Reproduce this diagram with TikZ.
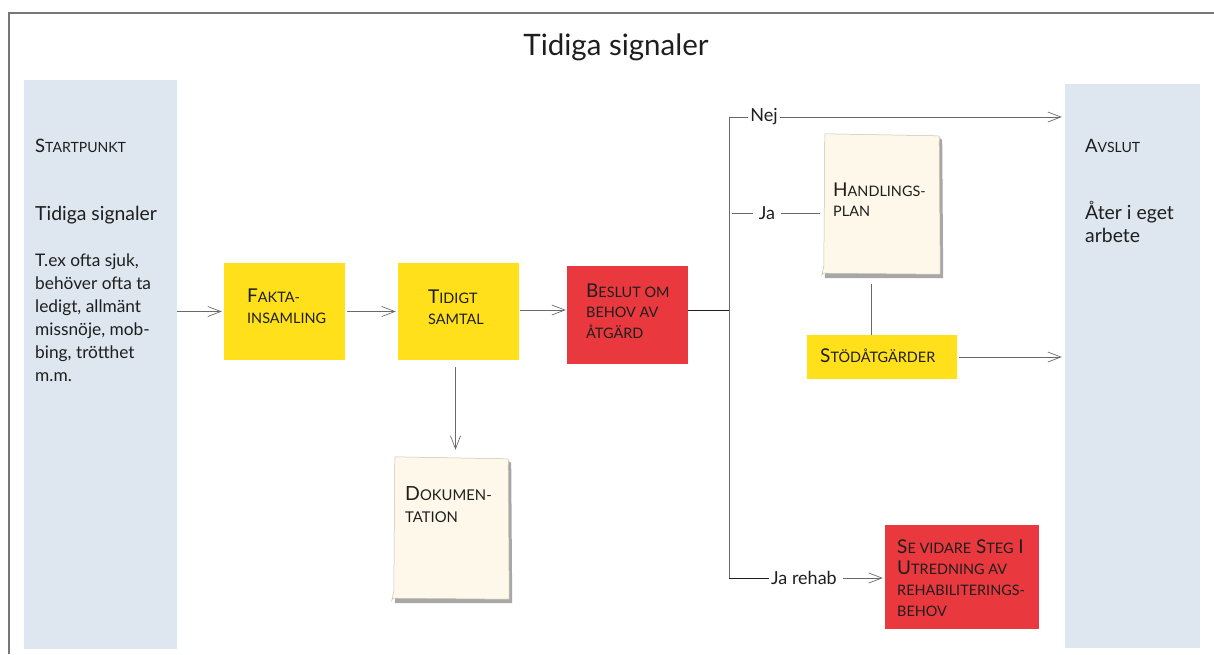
\documentclass[tikz,border=0pt]{standalone}
\usepackage{fontspec}
\usepackage{graphicx}
\setmainfont{Lato}
\usetikzlibrary{arrows.meta,calc}
\definecolor{framec}{HTML}{777777}
\definecolor{panelc}{HTML}{DEE7F0}
\definecolor{yellowc}{HTML}{FFE01B}
\definecolor{redc}{HTML}{E9393F}
\definecolor{docc}{HTML}{FDF8E9}
\definecolor{docedge}{HTML}{C8C2B0}
\definecolor{shadowc}{HTML}{8A8A8A}
\definecolor{linec}{HTML}{6A6A6A}
\definecolor{textc}{HTML}{1E1E1E}
\newcommand\lc[1]{\scalebox{0.76}{#1}}
\newcommand\docpaper[1]{%
  \fill[shadowc,opacity=0.75] ($(#1.north east)+(-2,4)$) -- ($(#1.north east)+(1,6)$) -- ($(#1.south east)+(2,4)$) -- ($(#1.south west)+(2,4)$) -- ($(#1.south west)+(2,0)$) -- cycle;
  \fill[docc, draw=docedge, line width=0.5pt] ($(#1.north west)+(2,0)$) -- ($(#1.north east)+(-4,2)$) .. controls ($(#1.north east)+(-1,2)$) and ($(#1.north east)+(-1,4)$) .. ($(#1.north east)+(-2,8)$) -- ($(#1.south east)+(-1,0)$) -- ($(#1.south west)+(1,-1)$) .. controls ($(#1.south west)+(0,-1)$) .. ($(#1.south west)+(-1,1)$) -- ($(#1.south west)+(1,-8)$) -- cycle;
}
\tikzset{
  panel/.style={fill=panelc, draw=none, inner sep=0pt},
  ybox/.style={fill=yellowc, draw=none, inner sep=0pt},
  rbox/.style={fill=redc, draw=none, inner sep=0pt},
  docnode/.style={draw=none, fill=none, inner sep=0pt},
  lbl/.style={text=textc, inner sep=0pt, align=left, anchor=base west},
  boxtext/.style={lbl, font=\fontsize{19}{21}\selectfont},
  conn/.style={draw=linec, line width=0.8pt},
  arr/.style={conn, -{Straight Barb[length=13pt,width=10pt,line width=0.7pt]}},
}
\begin{document}
\begin{tikzpicture}[x=1pt,y=-1pt]
\useasboundingbox (0,0) rectangle (1214,654);
% frame
\draw[framec, line width=1.4pt] (9,654) -- (9,13) -- (1214,13);
% title
\node[text=textc, font=\fontsize{29.5}{30}\selectfont, inner sep=0pt] (title) at (616,47) {Tidiga signaler};
% panels
\node[panel, minimum width=153pt, minimum height=569pt] (start) at (100.5,364.5) {};
\node[panel, minimum width=135pt, minimum height=564pt] (avslut) at (1132.5,366) {};
% (base west of a multi-line text = baseline of its last line)
\node[lbl, font=\fontsize{18.5}{18}\selectfont] (startlbl) at (35,152) {S\lc{TARTPUNKT}};
\node[lbl, font=\fontsize{19.4}{19}\selectfont] (starttitle) at (35,220) {Tidiga signaler};
\node[lbl, font=\fontsize{17.3}{23}\selectfont] (startdesc) at (35,381) {T.ex ofta sjuk,\\behöver ofta ta\\ledigt, allmänt\\missnöje, mob-\\bing, trötthet\\m.m.};
\node[lbl, font=\fontsize{18.5}{18}\selectfont] (avslutlbl) at (1085,152) {A\lc{VSLUT}};
\node[lbl, font=\fontsize{19.4}{23}\selectfont] (avsluttitle) at (1085,242) {Åter i eget\\arbete};
% boxes
\node[ybox, minimum width=121pt, minimum height=97pt] (fakta) at (284.5,311.5) {};
\node[ybox, minimum width=121pt, minimum height=97pt] (tidigt) at (458.5,311.5) {};
\node[rbox, minimum width=121pt, minimum height=98pt] (beslut) at (627.5,315) {};
\node[ybox, minimum width=150pt, minimum height=44pt] (stod) at (882,357) {};
\node[rbox, minimum width=154pt, minimum height=104pt] (seva) at (962,577) {};
\node[docnode, minimum width=118pt, minimum height=140pt] (handl) at (882,204) {};
\node[docnode, minimum width=117pt, minimum height=142pt] (dok) at (451.5,528) {};
\docpaper{handl}
\docpaper{dok}
% box texts
\node[boxtext] (faktat) at (247,323) {F\lc{AKTA-}\\\lc{INSAMLING}};
\node[boxtext] (tidigtt) at (428,324) {T\lc{IDIGT}\\\lc{SAMTAL}};
\node[boxtext, font=\fontsize{19}{20.5}\selectfont] (beslutt) at (586,338) {B\lc{ESLUT OM}\\\lc{BEHOV AV}\\\lc{ÅTGÄRD}};
\node[boxtext, font=\fontsize{19.5}{22}\selectfont] (dokt) at (405,522) {D\lc{OKUMEN-}\\\lc{TATION}};
\node[boxtext, font=\fontsize{19}{20}\selectfont] (handlt) at (833,216) {H\lc{ANDLINGS-}\\\lc{PLAN}};
\node[boxtext] (stodt) at (820,362) {S\lc{TÖDÅTGÄRDER}};
\node[boxtext] (sevat) at (897,616) {S\lc{E VIDARE} S\lc{TEG} I\\U\lc{TREDNING AV}\\\lc{REHABILITERINGS-}\\\lc{BEHOV}};
% branch labels
\node[lbl, anchor=center, font=\fontsize{18}{18}\selectfont, inner sep=2pt] (nej) at (764,117) {Nej};
\node[lbl, anchor=center, font=\fontsize{18}{18}\selectfont, inner sep=2pt] (ja) at (767,213) {Ja};
\node[lbl, anchor=center, font=\fontsize{18}{18}\selectfont, inner sep=2pt] (jarehab) at (804,578) {Ja rehab};
\coordinate (split) at (729,310);
\coordinate (splittop) at (729,117);
\coordinate (splitbot) at (729,578);
% connectors
\draw[arr] (start.east |- fakta.west) -- ([xshift=-2pt]fakta.west);
\draw[arr] ([xshift=2pt]fakta.east) -- ([xshift=-2pt]tidigt.west);
\draw[arr] ([xshift=1pt]tidigt.east |- split) -- ([xshift=-1pt]beslut.west |- split);
\draw[conn, draw=textc] (beslut.east |- split) -- (split);
\draw[conn] (splittop) -- (splitbot);
\draw[conn] (splittop) -- (nej.west);
\draw[arr] (nej.east) -- ([xshift=-3pt]avslut.west |- nej.east);
\draw[conn] ([xshift=3pt]splittop |- ja.west) -- ([xshift=-4pt]ja.west);
\draw[conn] ([xshift=4pt]ja.east) -- ([xshift=-3pt]handl.west |- ja.east);
\draw[conn] ([xshift=-11pt, yshift=-10pt]handl.south -| stod.north) -- ([xshift=-11pt]stod.north);
\draw[arr] ([xshift=2pt]stod.east) -- ([xshift=-3pt]avslut.west |- stod.east);
\draw[conn, draw=textc] (splitbot) -- (jarehab.west);
\draw[arr] ([xshift=4pt]jarehab.east) -- ([xshift=-2pt]seva.west |- jarehab.east);
\draw[arr] ([xshift=-3pt, yshift=-7pt]tidigt.south) -- ([xshift=-3pt, yshift=7pt]tidigt.south |- dok.north);
\end{tikzpicture}
\end{document}
